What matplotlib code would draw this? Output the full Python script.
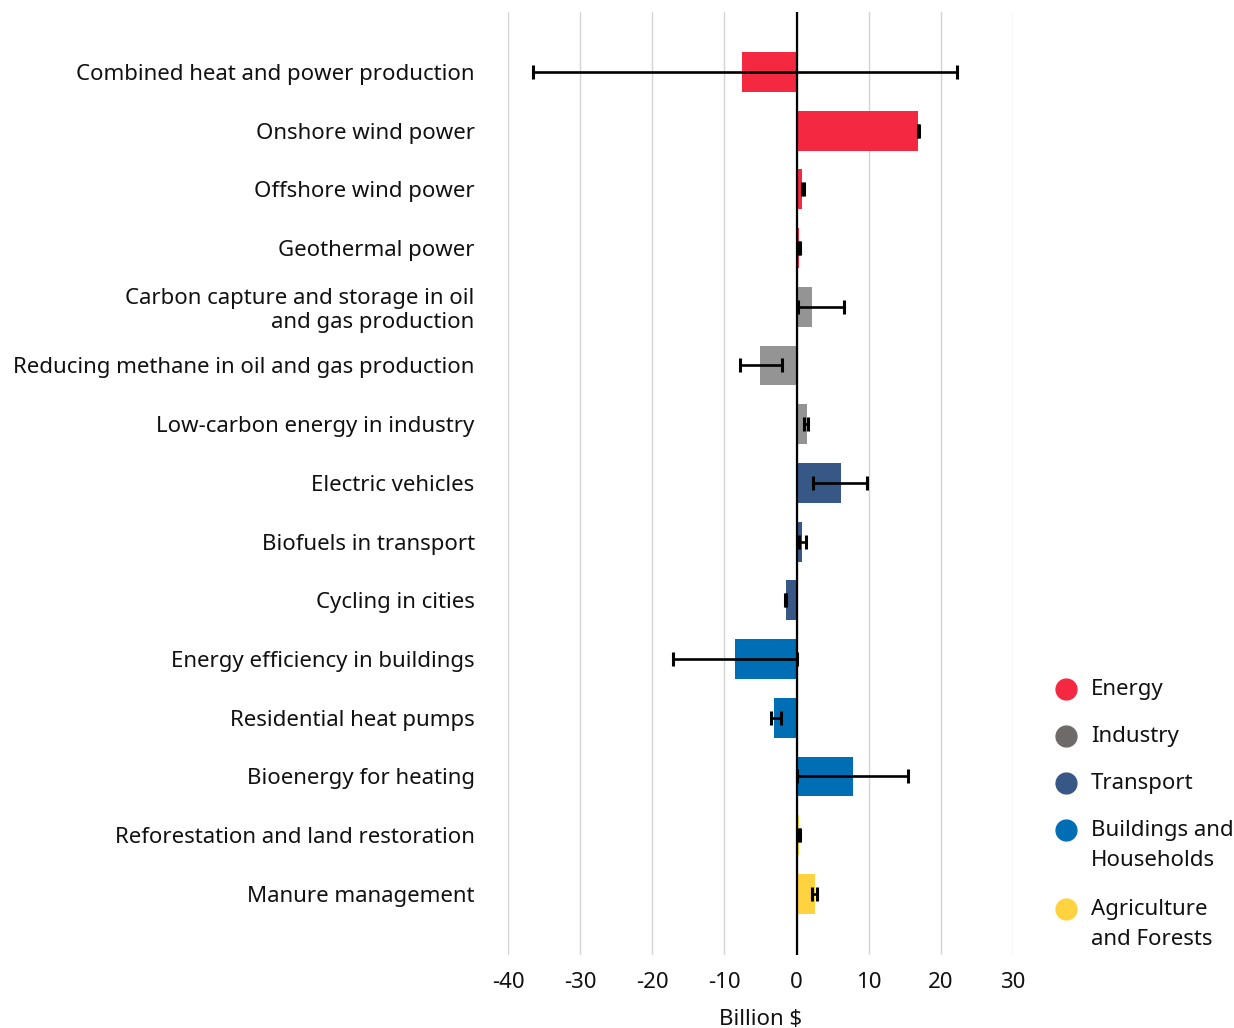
import numpy as np
import matplotlib
matplotlib.use('Agg')
from matplotlib import pyplot as plt
from matplotlib.lines import Line2D

# data (billion $)
measures = ["Combined heat and power production",
            "Onshore wind power",
            "Offshore wind power",
            "Geothermal power",
            "Carbon capture and storage in oil\nand gas production",
            "Reducing methane in oil and gas production",
            "Low-carbon energy in industry",
            "Electric vehicles",
            "Biofuels in transport",
            "Cycling in cities",
            "Energy efficiency in buildings",
            "Residential heat pumps",
            "Bioenergy for heating",
            "Reforestation and land restoration",
            "Manure management"]
sectors = ["Energy", "Energy", "Energy", "Energy",
           "Industry", "Industry", "Industry",
           "Transport", "Transport", "Transport",
           "Buildings", "Buildings", "Buildings",
           "Agriculture", "Agriculture"]
values = [-7.6, 16.9, 0.8, 0.4, 2.1, -5.1, 1.4, 6.1, 0.8, -1.5, -8.5, -3.1, 7.8, 0.4, 2.5]
err_low = [-36.5, 16.8, 0.8, 0.3, 0.15, -7.9, 1.0, 2.3, 0.4, -1.6, -17.1, -3.6, 0.0, 0.3, 2.1]
err_high = [22.3, 17.0, 1.0, 0.5, 6.6, -2.0, 1.6, 9.7, 1.3, -1.4, 0.0, -2.1, 15.5, 0.5, 2.8]

legend_names = ["Energy", "Industry", "Transport", "Buildings and\nHouseholds", "Agriculture\nand Forests"]
legend_keys = ["Energy", "Industry", "Transport", "Buildings", "Agriculture"]
bar_colors = {"Energy": "#F42941", "Industry": "#949494", "Transport": "#375786",
              "Buildings": "#006EB5", "Agriculture": "#FFD23F"}
dot_colors = {"Energy": "#F42941", "Industry": "#6E6A68", "Transport": "#375786",
              "Buildings": "#006EB5", "Agriculture": "#FFD23F"}

plt.rcParams['font.family'] = ['Noto Sans', 'DejaVu Sans']
plt.rcParams['font.size'] = 16
plt.rcParams['font.weight'] = 'medium'
plt.rcParams['axes.unicode_minus'] = False

fig = plt.figure(figsize=(12.34, 10.28), dpi=100)
ax = fig.add_axes([508/1234, 1-955/1028, (1013-508)/1234, (955-12)/1028])

y = np.arange(len(measures))
vals = np.array(values)
lo = np.array(err_low)
hi = np.array(err_high)
ax.barh(y, vals, height=0.68, color=[bar_colors[s] for s in sectors], zorder=2)
ax.errorbar((lo + hi)/2, y, xerr=(hi - lo)/2,
            fmt='none', ecolor='black', elinewidth=1.9, capsize=5, capthick=2.2, zorder=4)
ax.axvline(0, color='black', lw=1.6, zorder=5)

ax.set_xlim(-40, 30)
ax.set_ylim(len(measures)-1+1.04, -1.02)
ax.set_xticks(np.arange(-40, 31, 10))
ax.grid(axis='x', color='#d4d4d4', lw=1, zorder=0)
ax.set_axisbelow(True)
for s in ax.spines.values():
    s.set_visible(False)
ax.set_yticks(y)
ax.set_yticklabels(measures, color='#111111', linespacing=1.2)
ax.tick_params(axis='y', length=0, pad=24)
ax.tick_params(axis='x', length=0, pad=12, colors='#111111')
ax.set_xlabel("Billion $", labelpad=12, color='#111111')

# legend
ly = 1 - 689/1028
for key, name in zip(legend_keys, legend_names):
    fig.add_artist(Line2D([1066/1234], [ly], marker='o', markersize=15, color=dot_colors[key],
                          transform=fig.transFigure, linestyle='none'))
    fig.text(1091/1234, ly + 10/1028, name, va='top', ha='left', color='#111111',
             linespacing=1.55, transform=fig.transFigure)
    ly -= (47 + 32*name.count('\n'))/1028

fig.savefig("out.png", dpi=100)
